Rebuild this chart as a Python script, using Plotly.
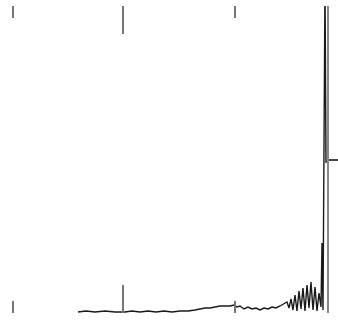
import plotly.graph_objects as go

# x positions and amplitudes of the trace
freq = [78, 86, 95, 105, 115, 125, 132, 140, 148, 156, 164, 172, 180, 188, 195, 200,
        205, 210, 215, 220, 225, 230, 234, 237, 240, 244, 248, 252, 256, 260, 264, 268,
        272, 276, 280, 284, 287, 289, 291, 293, 295, 297, 299, 301, 303, 305, 307, 309,
        311, 313, 315, 317, 319, 321, 322, 323, 324, 325, 326]
amp = [1, 2, 1, 2, 1, 1, 2, 1, 2, 1, 2, 1, 2, 2, 3, 4,
       5, 5, 6, 7, 7, 7, 8, 6, 7, 4, 6, 4, 5, 3, 5, 4,
       6, 5, 7, 9, 11, 5, 14, 3, 18, 2, 22, 4, 25, 2, 28, 5,
       31, 3, 26, 2, 20, 6, 70, 3, 230, 330, 150]

major_ticks = [123, 327]
minor_ticks = [13, 235]
y_ticks = [153]

fig = go.Figure(go.Scatter(x=freq, y=amp, mode="lines",
                           line=dict(color="#1a1a1a", width=1.4), showlegend=False))

fig.update_layout(
    width=338, height=323,
    margin=dict(l=0, r=11, t=6, b=10),
    paper_bgcolor="white", plot_bgcolor="white",
    xaxis=dict(range=[0, 327], tickmode="array", tickvals=major_ticks,
               ticks="inside", ticklen=28, tickwidth=2, tickcolor="#777",
               mirror="ticks", showline=False, showgrid=False, zeroline=False,
               showticklabels=False,
               minor=dict(tickmode="array", tickvals=minor_ticks, ticks="inside",
                          ticklen=12, tickwidth=2, tickcolor="#777", showgrid=False)),
    yaxis=dict(range=[0, 307], side="right", showline=True, linecolor="#888",
               linewidth=2, tickmode="array", tickvals=y_ticks, ticks="outside",
               ticklen=9, tickwidth=2, tickcolor="#444", showgrid=False,
               zeroline=False, showticklabels=False),
)

fig.write_html("out.html", config={"displayModeBar": False},
               post_script="document.body.style.margin='0';document.body.style.overflow='hidden';")
